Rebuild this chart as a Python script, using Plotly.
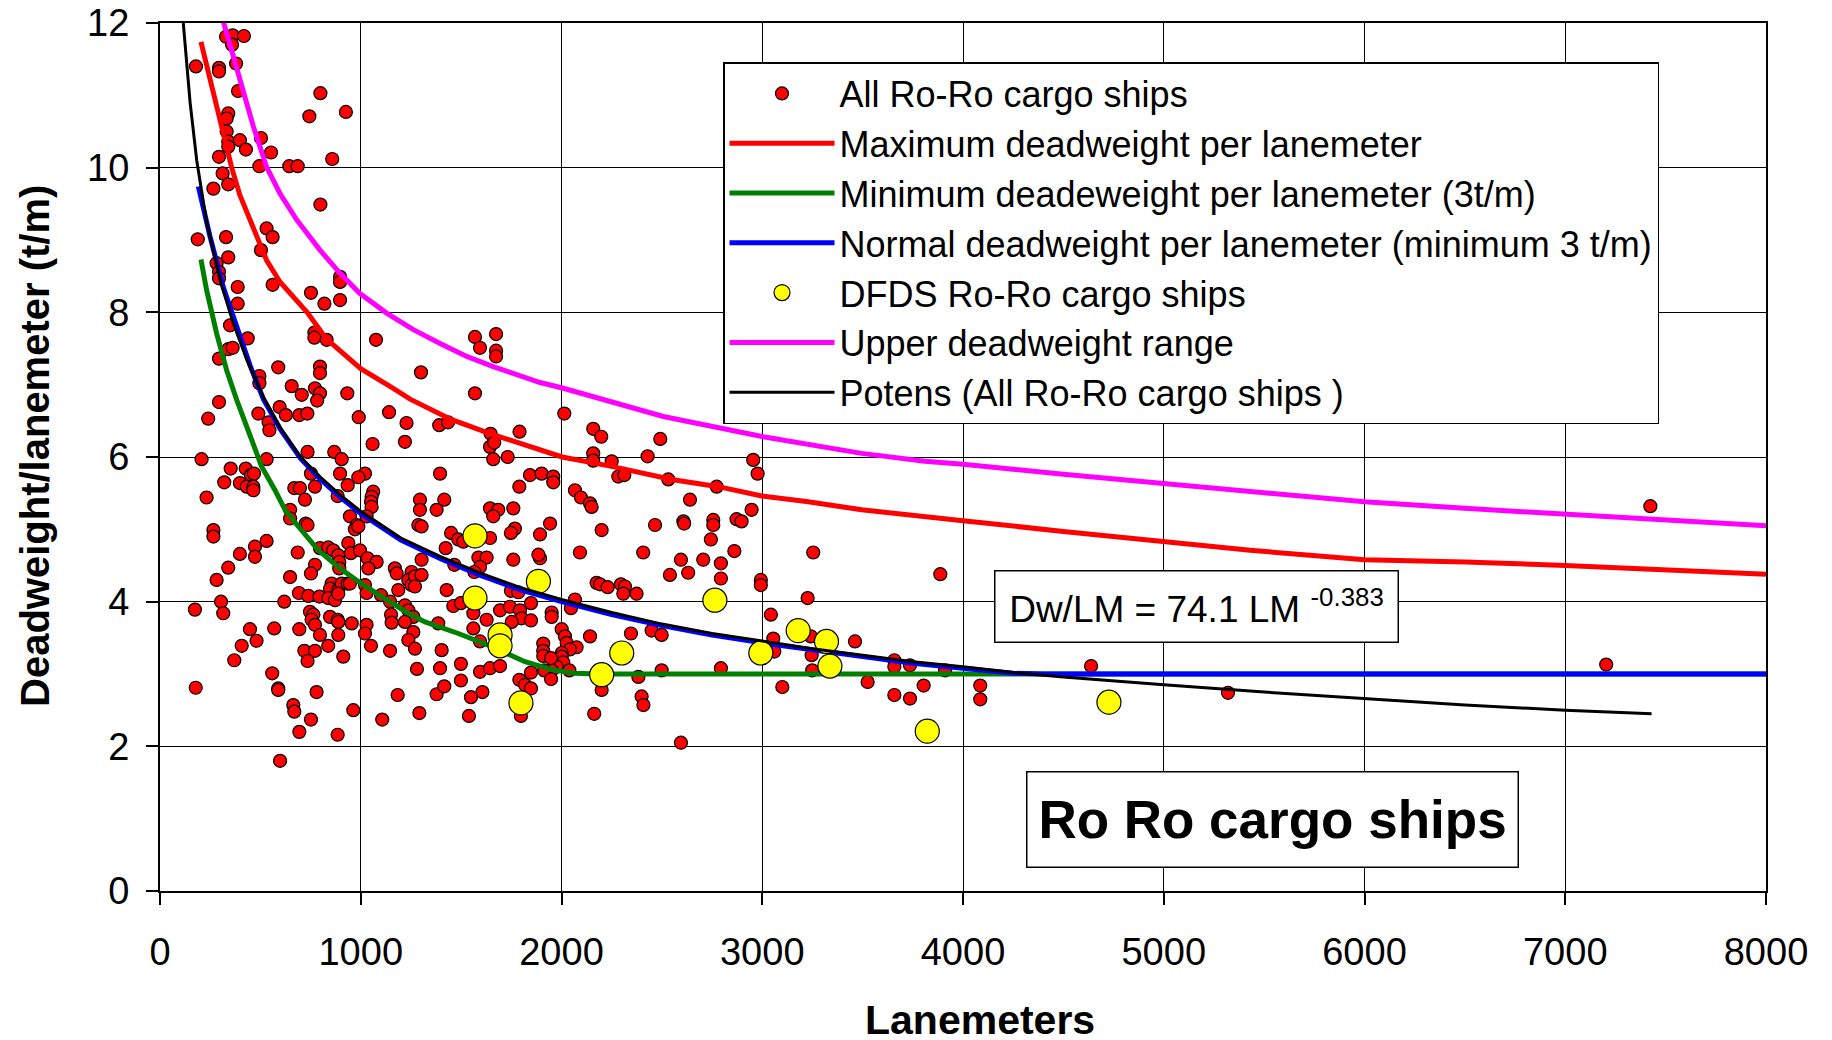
import plotly.graph_objects as go

# ---------------- data ----------------
ALL_X = [329, 362, 418, 359, 179, 294, 294, 379, 389, 799, 744, 926, 340, 332, 332, 340, 340, 398, 428, 503,
         553, 294, 495, 644, 686, 858, 312, 340, 266, 799, 188, 329, 531, 561, 503, 282, 294, 294, 340, 897,
         897, 387, 561, 752, 819, 897, 387, 349, 437, 340, 362, 294, 769, 769, 830, 1076, 1569, 1594, 1674, 1674,
         1674, 589, 797, 797, 1300, 495, 495, 656, 772, 797, 706, 933, 1569, 294,
         240, 490, 596, 627, 694, 734, 541, 545, 783, 990, 1141, 1228, 1391, 1435, 1647, 1791, 2014, 2158, 2198, 2492,
         735, 868, 905, 1059, 1220, 207, 531, 352, 427, 453, 468, 398, 432, 465, 465, 320, 752, 897, 1021, 988,
         669, 697, 772, 935, 1062, 1054, 1051, 1054, 722, 885, 232, 1295, 648, 648, 726, 735, 946, 980, 971, 988,
         1029, 1287, 266, 266, 531, 473, 473, 398, 340, 282, 686, 797, 838, 863, 888, 893, 893, 938, 951, 996,
         1034, 1079, 1038, 772, 752, 648, 855, 847, 888, 905, 935, 946, 1021, 1029, 692, 739, 794, 838, 872, 888,
         1101, 1146, 1170, 1179, 1253, 1237, 1253, 1270, 1270, 1187, 1303, 1303, 1295, 1303, 174, 304, 315, 619, 747, 764,
         755, 847, 885, 888, 955, 1029, 1021, 1151, 1154, 1220, 1237, 1262, 1220, 1262, 1237, 1270, 448, 569, 694, 481,
         407, 370, 772, 797, 888, 838, 719, 772, 735, 913, 1051, 1146, 1280, 559, 178, 589, 589, 780, 1184, 664,
         669, 963, 752, 1107, 1292, 694, 885, 598,
         1644, 1665, 1660, 1732, 1395, 1843, 1901, 1959, 1959, 1790, 2158, 2158, 2250, 2429, 2283, 2313, 2532, 2067, 2097, 2142,
         2150, 1416, 1378, 1644, 1685, 1660, 1760, 1943, 1768, 1748, 1893, 2200, 2466, 1450, 1486, 1511, 1644, 2092, 2407, 1423,
         1466, 1586, 1627, 1594, 1760, 1893, 1885, 1566, 2540, 2175, 2192, 2230, 2296, 2316, 2308, 2374, 1428, 1748, 1785, 2067,
         2047, 1848, 1461, 1499, 1561, 1561, 1694, 1743, 1793, 1801, 1752, 1848, 1951, 1951, 1627, 1386, 2001, 2017, 2026, 2075,
         2042, 2001, 2001, 2009, 1976, 1951, 1909, 1909, 1909, 1948, 2142, 1594, 1403, 1395, 1499, 1594, 1644, 1694, 1914, 1848,
         1790, 1818, 1848, 1948, 2039, 1378, 1416, 1499, 1606, 1549, 1539, 1798, 2200, 2346, 2449, 2499, 2383, 2499, 2399, 2408,
         2163,
         2955, 2977, 2773, 2640, 2607, 2611, 2756, 2756, 2872, 2897, 2947, 2744, 2861, 2595, 2706, 2794, 2631, 2794, 2993, 2993,
         3254, 3226, 3043, 3055, 3060, 3242, 3246, 3249, 3462, 2794, 3100, 3525, 3658, 3658, 3736, 3658, 3736, 2595,
         3887, 3911, 3804, 4086, 4086, 4638, 5320, 7204, 7424]
ALL_Y = [11.81, 11.83, 11.82, 11.70, 11.40, 11.38, 11.33, 11.44, 11.06, 11.03, 10.71, 10.77, 10.75, 10.68, 10.50, 10.36, 10.29, 10.38, 10.25, 10.41,
         10.21, 10.15, 10.02, 10.02, 10.02, 10.12, 9.92, 9.77, 9.71, 9.49, 9.01, 9.04, 9.16, 9.04, 8.86, 8.68, 8.56, 8.47, 8.76, 8.49,
         8.42, 8.35, 8.38, 8.27, 8.12, 8.17, 8.12, 7.82, 7.64, 7.49, 7.51, 7.36, 7.72, 7.65, 7.62, 7.62, 7.66, 7.51, 7.70, 7.47,
         7.39, 7.24, 7.25, 7.16, 7.17, 7.12, 7.02, 6.98, 6.95, 6.88, 6.86, 6.88, 6.88, 6.76,
         6.53, 6.60, 6.69, 6.58, 6.58, 6.60, 6.48, 6.37, 6.78, 6.55, 6.62, 6.47, 6.44, 6.48, 6.32, 6.35, 6.60, 6.39, 6.28, 6.25,
         6.07, 6.07, 5.97, 6.18, 6.21, 5.97, 5.97, 5.84, 5.84, 5.75, 5.77, 5.64, 5.59, 5.59, 5.54, 5.65, 5.77, 5.77, 5.77, 5.72,
         5.57, 5.57, 5.59, 5.61, 5.52, 5.45, 5.38, 5.31, 5.41, 5.46, 5.44, 5.41, 5.27, 5.15, 5.08, 5.06, 5.18, 5.06, 5.00, 5.04,
         5.18, 5.06, 4.99, 4.90, 4.84, 4.76, 4.62, 4.66, 4.47, 4.30, 4.68, 4.74, 4.75, 4.71, 4.64, 4.55, 4.46, 4.81, 4.67, 4.71,
         4.60, 4.55, 4.46, 4.51, 4.39, 4.34, 4.25, 4.18, 4.16, 4.25, 4.25, 4.25, 4.23, 4.12, 4.12, 4.08, 4.07, 4.05, 4.02, 4.11,
         4.09, 4.00, 4.46, 4.39, 4.41, 4.30, 4.23, 4.35, 4.21, 4.16, 4.58, 4.37, 5.27, 5.04, 3.89, 4.00, 3.84, 4.00, 3.86, 3.82,
         3.75, 3.79, 3.75, 3.72, 3.70, 3.68, 3.56, 3.82, 3.71, 3.95, 3.88, 3.79, 3.72, 3.58, 3.47, 3.35, 3.62, 3.63, 3.62, 3.46,
         3.39, 3.19, 3.68, 3.54, 3.54, 3.39, 3.32, 3.32, 3.18, 3.24, 3.39, 3.32, 3.07, 3.01, 2.81, 2.80, 2.78, 2.75, 2.71, 2.57,
         2.48, 2.50, 2.37, 2.37, 2.46, 2.20, 2.16, 1.80,
         6.14, 6.20, 5.97, 6.00, 5.77, 5.75, 5.77, 5.73, 5.65, 5.59, 6.05, 5.95, 5.94, 6.01, 5.73, 5.75, 5.69, 5.54, 5.44, 5.36,
         5.31, 5.41, 5.27, 5.29, 5.27, 5.18, 5.29, 5.08, 5.01, 4.95, 4.93, 4.99, 5.06, 4.95, 4.86, 4.83, 4.88, 4.68, 4.68, 4.74,
         4.51, 4.61, 4.61, 4.48, 4.58, 4.60, 4.65, 4.41, 4.37, 4.26, 4.24, 4.20, 4.24, 4.21, 4.11, 4.11, 4.16, 4.15, 4.13, 4.03,
         3.91, 3.98, 3.94, 3.98, 3.84, 3.63, 3.88, 3.93, 3.88, 3.77, 3.72, 3.74, 3.85, 3.79, 3.75, 3.70, 3.62, 3.52, 3.43, 3.37,
         3.34, 3.29, 3.24, 3.16, 3.10, 3.05, 3.42, 3.32, 3.25, 3.22, 3.52, 3.45, 3.33, 3.08, 3.14, 3.03, 3.08, 3.11, 3.05, 3.02,
         2.92, 2.85, 2.80, 2.93, 3.05, 2.72, 2.83, 2.91, 2.75, 2.68, 2.42, 2.42, 2.78, 3.56, 3.60, 3.54, 2.96, 3.05, 2.69, 2.57,
         2.45,
         5.96, 5.77, 5.59, 5.41, 5.11, 5.08, 5.13, 5.06, 5.14, 5.11, 5.27, 4.86, 4.70, 4.58, 4.58, 4.53, 4.40, 4.32, 4.30, 4.23,
         4.68, 4.05, 3.82, 3.49, 3.31, 3.52, 3.26, 3.05, 3.45, 3.08, 2.82, 2.89, 3.19, 3.10, 3.12, 2.71, 2.66, 2.05,
         4.38, 3.05, 2.84, 2.84, 2.65, 3.11, 2.74, 3.13, 5.32]

DFDS_X = [1569, 1885, 1569, 1694, 1694, 1798, 2300, 2200, 2764, 2993, 3179, 3320, 3337, 3822, 4727]
DFDS_Y = [4.91, 4.28, 4.05, 3.54, 3.39, 2.60, 3.29, 2.99, 4.02, 3.29, 3.60, 3.45, 3.11, 2.21, 2.61]

MAX_X = [204, 266, 332, 357, 398, 465, 531, 598, 733, 830, 1000, 1162, 1246, 1450, 1647, 2003, 2250, 2549,
         2781, 2997, 3229, 3495, 3810, 4000, 4500, 5000, 5430, 6000, 6500, 7000, 7500, 8000]
MAX_Y = [11.74, 11.03, 10.34, 10.0, 9.62, 9.15, 8.72, 8.42, 8.0, 7.63, 7.22, 6.95, 6.80, 6.52, 6.32, 6.00, 5.87, 5.69,
         5.59, 5.46, 5.38, 5.27, 5.17, 5.12, 4.97, 4.83, 4.71, 4.58, 4.55, 4.50, 4.44, 4.38]

MIN_X = [204, 232, 282, 332, 382, 445, 506, 573, 623, 689, 789, 888, 988, 1104, 1237, 1320, 1486, 1652, 1818,
         1951, 2067, 2183, 3000, 4000, 5000, 6000, 7000, 8000]
MIN_Y = [8.73, 8.31, 7.71, 7.20, 6.79, 6.32, 5.87, 5.54, 5.27, 5.04, 4.71, 4.48, 4.28, 4.07, 3.84, 3.72, 3.56, 3.38, 3.17,
         3.06, 3.01, 3.0, 3.0, 3.0, 3.0, 3.0, 3.0, 3.0]

NORMAL_X = [191, 249, 315, 382, 448, 515, 600, 700, 800, 900, 1000, 1200, 1400, 1600, 1800, 2000, 2250, 2500, 2750,
            3000, 3250, 3500, 3750, 4000, 4250, 4400, 5000, 6000, 7000, 8000]
NORMAL_Y = [9.74, 9.05, 8.35, 7.78, 7.27, 6.80, 6.38, 5.98, 5.69, 5.44, 5.22, 4.85, 4.59, 4.36, 4.16, 4.00, 3.82, 3.67, 3.54,
            3.43, 3.33, 3.24, 3.15, 3.08, 3.01, 3.0, 3.0, 3.0, 3.0, 3.0]

UPPER_X = [299, 357, 415, 465, 531, 598, 681, 797, 897, 996, 1129, 1262, 1395, 1528, 1660, 1893, 2009, 2507, 3005,
           3229, 3495, 3810, 4000, 4500, 5000, 5500, 6000, 6500, 7000, 7500, 8000]
UPPER_Y = [12.18, 11.63, 11.03, 10.57, 10.01, 9.64, 9.28, 8.86, 8.54, 8.26, 7.99, 7.76, 7.57, 7.39, 7.25, 7.03, 6.95, 6.56, 6.28,
           6.17, 6.05, 5.94, 5.90, 5.76, 5.63, 5.50, 5.38, 5.29, 5.21, 5.13, 5.05]

POTENS_X = [116, 150, 183, 232, 299, 365, 432, 515, 600, 700, 800, 900, 1000, 1200, 1400, 1600, 1800, 2000, 2250, 2500,
            2750, 3000, 3250, 3500, 3750, 4000, 4250, 4500, 4750, 5000, 5500, 6000, 6500, 7000, 7430]
POTENS_Y = [12.0, 10.9, 10.1, 9.25, 8.45, 7.85, 7.35, 6.83, 6.40, 6.00, 5.72, 5.47, 5.25, 4.88, 4.62, 4.39, 4.19, 4.03, 3.85, 3.69,
            3.56, 3.45, 3.35, 3.26, 3.17, 3.10, 3.02, 2.96, 2.90, 2.85, 2.75, 2.66, 2.57, 2.50, 2.45]

X_TICKS = [0, 1000, 2000, 3000, 4000, 5000, 6000, 7000, 8000]
Y_TICKS = [0, 2, 4, 6, 8, 10, 12]

FONT = "Liberation Sans, Arial, sans-serif"

# the page has an 8px body margin: the figure is drawn offset by (8, 8) in the window
OFF = 8
PW, PH = 1832, 1040
PL, PT, PR, PB = 160 - OFF, 23 - OFF, 1766 - OFF, 891 - OFF   # plot-area edges in figure pixels
PLOT_W, PLOT_H = PR - PL, PB - PT


def px(xw):
    """window x pixel -> paper x"""
    return (xw - OFF - PL) / PLOT_W


def py(yw):
    """window y pixel -> paper y"""
    return (PB - (yw - OFF)) / PLOT_H


fig = go.Figure()
fig.add_trace(go.Scatter(x=ALL_X, y=ALL_Y, mode="markers", name="All Ro-Ro cargo ships",
                         marker=dict(color="#ff0000", size=13, line=dict(color="black", width=1.2))))
fig.add_trace(go.Scatter(x=MAX_X, y=MAX_Y, mode="lines", name="Maximum deadweight per lanemeter",
                         line=dict(color="#ff0000", width=5)))
fig.add_trace(go.Scatter(x=MIN_X, y=MIN_Y, mode="lines", name="Minimum deadeweight per lanemeter (3t/m)",
                         line=dict(color="#008000", width=5)))
fig.add_trace(go.Scatter(x=NORMAL_X, y=NORMAL_Y, mode="lines", name="Normal deadweight per lanemeter (minimum 3 t/m)",
                         line=dict(color="#0000ff", width=5)))
fig.add_trace(go.Scatter(x=DFDS_X, y=DFDS_Y, mode="markers", name="DFDS Ro-Ro cargo ships",
                         marker=dict(color="#ffff00", size=24, line=dict(color="black", width=1.2))))
fig.add_trace(go.Scatter(x=UPPER_X, y=UPPER_Y, mode="lines", name="Upper deadweight range",
                         line=dict(color="#ff00ff", width=5)))
fig.add_trace(go.Scatter(x=POTENS_X, y=POTENS_Y, mode="lines", name="Potens (All Ro-Ro cargo ships )",
                         line=dict(color="black", width=3)))

axis_common = dict(
    showgrid=True, gridcolor="black", gridwidth=1.3,
    showline=True, linecolor="black", linewidth=2, mirror=True,
    ticks="outside", ticklen=12, tickwidth=1.5, tickcolor="black",
    zeroline=False, automargin=False, ticklabeloverflow="allow",
    tickfont=dict(family=FONT, size=38, color="black"),
)

fig.update_layout(
    template="none",
    width=PW, height=PH,
    margin=dict(l=PL, r=PW - PR, t=PT, b=PH - PB, autoexpand=False),
    paper_bgcolor="white", plot_bgcolor="white",
    font=dict(family=FONT, color="black"),
    xaxis=dict(range=[0, 8000], tickvals=X_TICKS, ticklabelstandoff=14, **axis_common),
    yaxis=dict(range=[0, 12], tickvals=Y_TICKS, ticklabelstandoff=9, **axis_common),
    legend=dict(
        x=px(723), y=py(62), xanchor="left", yanchor="top",
        bgcolor="white", bordercolor="black", borderwidth=1.5,
        font=dict(family=FONT, size=36, color="black"),
        itemwidth=105, tracegroupgap=0,
    ),
    showlegend=True,
    annotations=[
        dict(text="<b>Lanemeters</b>", xref="paper", yref="paper", x=px(980), y=py(1020),
             xanchor="center", yanchor="middle", showarrow=False,
             font=dict(family=FONT, size=41, color="black")),
        dict(text="<b>Deadweight/lanemeter (t/m)</b>", xref="paper", yref="paper", x=px(35), y=py(446),
             xanchor="center", yanchor="middle", showarrow=False, textangle=-90,
             font=dict(family=FONT, size=40, color="black")),
        dict(text="Dw/LM = 74.1 LM <sup>-0.383</sup>", xref="paper", yref="paper",
             x=px(994), y=py(570), xanchor="left", yanchor="top",
             showarrow=False, width=398, height=66, align="center", valign="middle",
             bgcolor="white", bordercolor="black", borderwidth=1.5, borderpad=2,
             font=dict(family=FONT, size=37, color="black")),
        dict(text="<b>Ro Ro cargo ships</b>", xref="paper", yref="paper",
             x=px(1272), y=py(819), xanchor="center", yanchor="middle",
             showarrow=False, width=486, height=90, align="center", valign="middle",
             bgcolor="white", bordercolor="black", borderwidth=1.5, borderpad=2,
             font=dict(family=FONT, size=53, color="black")),
    ],
)

fig.write_html("out.html")
